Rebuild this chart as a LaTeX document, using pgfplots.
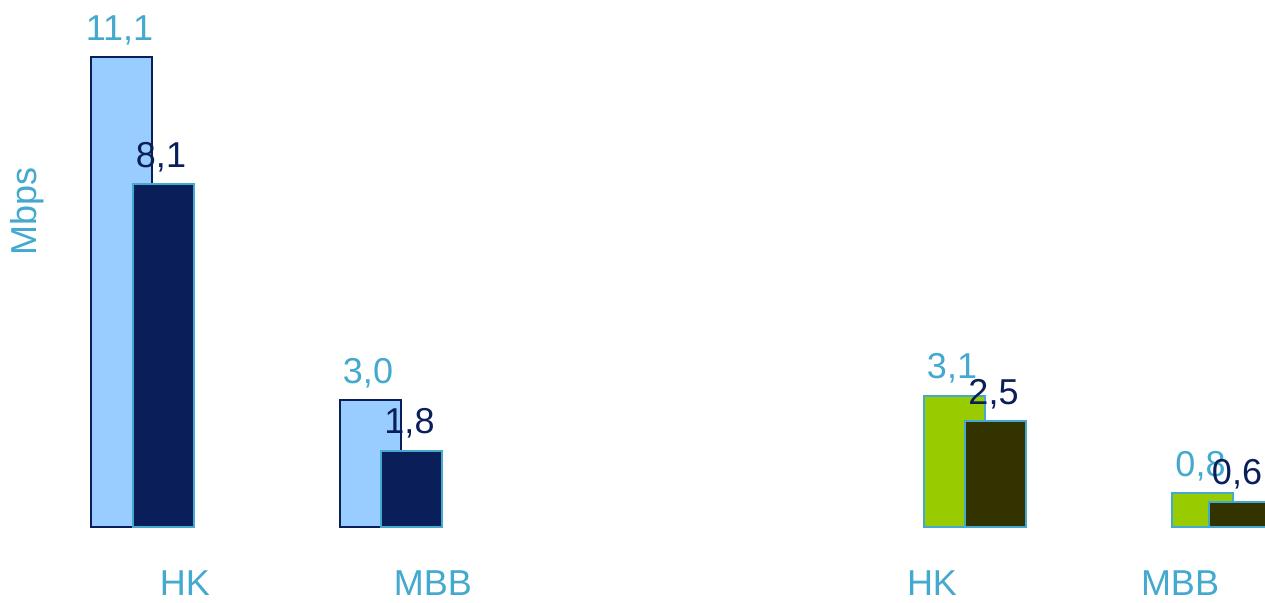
\documentclass[border=0pt]{standalone}
\usepackage{pgfplots}
\pgfplotsset{compat=1.18}
\usepackage{fontspec}
\setmainfont{Liberation Sans}
\definecolor{lblue}{HTML}{99CCFF}
\definecolor{navy}{HTML}{0A1F5A}
\definecolor{txtblue}{HTML}{44A9CE}
\definecolor{lgreen}{HTML}{99CC00}
\definecolor{olive}{HTML}{333300}
\begin{document}
\begin{tikzpicture}
\begin{axis}[
  at={(0,0)}, anchor=south west,
  scale only axis, width=632.5pt, height=301.5pt,
  xmin=0, xmax=1265, ymin=-1.797, ymax=12.459,
  axis line style={draw=none}, major tick length=0pt,
  ytick=\empty,
  xtick={185,433,932,1180},
  xticklabels={HK,MBB,HK,MBB},
  xticklabel style={anchor=base, yshift=3.5pt, text=txtblue,
    font=\fontsize{18}{21}\selectfont},
  ybar, bar width=61, bar shift=0pt,
  nodes near coords,
  every node near coord/.append style={anchor=base, yshift=8.5pt, xshift=-1pt,
    font=\fontsize{18}{21}\selectfont},
  /pgf/number format/.cd, use comma, fixed, fixed zerofill, precision=1,
  assume math mode=true,
]
% Mbps, left group
\addplot[fill=lblue, draw=navy, line width=1pt,
  every node near coord/.append style={text=txtblue}]
  coordinates {(121.5,11.1) (370,3.0)};
\addplot[fill=navy, draw=txtblue, line width=1pt,
  every node near coord/.append style={text=navy}]
  coordinates {(163,8.1) (411.5,1.8)};
% right group
\addplot[fill=lgreen, draw=txtblue, line width=1pt,
  every node near coord/.append style={text=txtblue}]
  coordinates {(954,3.1) (1202.5,0.8)};
\addplot[fill=olive, draw=txtblue, line width=1pt,
  every node near coord/.append style={text=navy}]
  coordinates {(995.5,2.5) (1239,0.6)};
\node[rotate=90, text=txtblue, font=\fontsize{18}{21}\selectfont]
  at (axis cs:27,7.45) {Mbps};
\end{axis}
\pgfresetboundingbox
\path (0,0) rectangle (632.5pt,301.5pt);
\end{tikzpicture}
\end{document}
